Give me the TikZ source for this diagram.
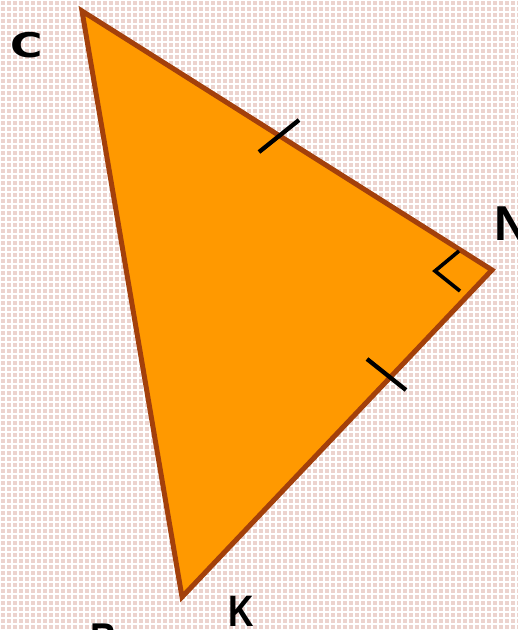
\documentclass[tikz,border=0pt]{standalone}
\usepackage{fontspec}
\setmainfont{Liberation Sans}
\newfontfamily\heavyfont{DejaVu Sans}
\definecolor{bgpink}{HTML}{ECD3CE}
\definecolor{triorange}{HTML}{FF9900}
\definecolor{tribrown}{HTML}{A3400B}
\tikzset{
  lbl/.style={inner sep=0pt, anchor=base west, text=black},
  tick/.style={black, line width=4.3pt},
  tri/.style={fill=triorange, draw=tribrown, line width=5pt, line join=miter}
}
\begin{document}
\begin{tikzpicture}[x=1pt,y=-1pt]
\useasboundingbox (0,0) rectangle (518,630);
\begin{scope}
\clip (0,0) rectangle (518,630);
\fill[bgpink] (0,0) rectangle (518,630);
\draw[white, line width=1.7pt, step=6pt] (0,0) grid (518,630);
\coordinate (C) at (82,11);
\coordinate (N) at (492,270);
\coordinate (K) at (182,597);
\draw[tri] (C) -- (N) -- (K) -- cycle;
% tick marks
\coordinate (t1a) at (259,152);
\coordinate (t1b) at (299,120);
\draw[tick] (t1a) -- (t1b);
\coordinate (t2a) at (367,359);
\coordinate (t2b) at (406,390);
\draw[tick] (t2a) -- (t2b);
% right angle mark
\coordinate (r1) at (459,251);
\coordinate (r2) at (435,271);
\coordinate (r3) at (460,291);
\draw[black, line width=3.6pt] (r1) -- (r2) -- (r3);
% labels
\node[lbl, font=\fontsize{34}{34}\selectfont\heavyfont\bfseries, xscale=1.3] (labC) at (10,57) {C};
\node[lbl, font=\fontsize{49}{49}\selectfont\bfseries] (labN) at (494,240) {N};
\node[lbl, font=\fontsize{44}{44}\selectfont\bfseries, xscale=0.8] (labK) at (228,626) {K};
\node[lbl, font=\fontsize{46}{46}\selectfont\bfseries, xscale=0.8] (labB) at (90,655) {B};
\end{scope}
\end{tikzpicture}
\end{document}
